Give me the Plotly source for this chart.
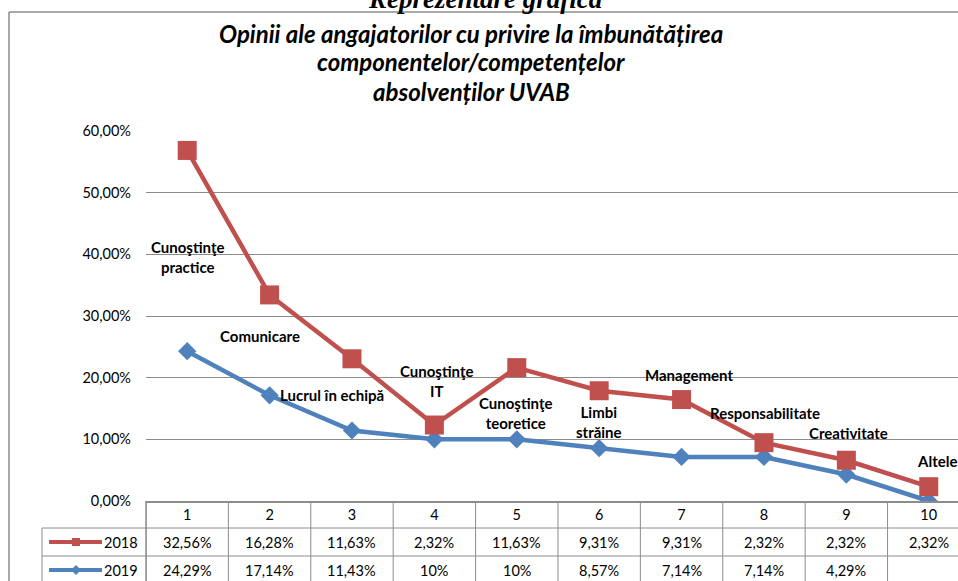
import plotly.graph_objects as go

# data (stacked line chart, values in %)
categories = ["1", "2", "3", "4", "5", "6", "7", "8", "9", "10"]
series_2018 = [32.56, 16.28, 11.63, 2.32, 11.63, 9.31, 9.31, 2.32, 2.32, 2.32]
series_2019 = [24.29, 17.14, 11.43, 10, 10, 8.57, 7.14, 7.14, 4.29, None]
point_labels = ["Cunoştinţe<br>practice", "Comunicare", "Lucrul în echipă", "Cunoştinţe<br>IT",
                "Cunoştinţe<br>teoretice", "Limbi<br>străine", "Management", "Responsabilitate",
                "Creativitate", "Altele"]
title_lines = ["Opinii ale angajatorilor cu privire la îmbunătățirea",
               "componentelor/competențelor",
               "absolvenților UVAB"]
heading = "Reprezentare grafică"

# where the data labels sit (x in category units, y in %)
label_pos = [(1.0, 39.5), (1.88, 26.7), (2.76, 17.2), (4.03, 19.4), (4.99, 14.3),
             (6.0, 12.8), (7.09, 20.4), (8.01, 14.3), (9.03, 11.0), (10.1, 6.5)]

RED = "#C0504D"
BLUE = "#4F81BD"
GRID = "#8C8C8C"
FONT = "Lato"

x_vals = list(range(1, len(categories) + 1))


def pct(v):
    if v is None:
        return ""
    if float(v).is_integer():
        return f"{int(v)}%"
    return f"{v:.2f}".replace(".", ",") + "%"


fig = go.Figure()
fig.add_trace(go.Scatter(
    x=x_vals, y=[(v or 0) / 100 for v in series_2019], name="2019",
    stackgroup="one", fill="none", mode="lines+markers",
    line=dict(color=BLUE, width=4.5),
    marker=dict(symbol="diamond", size=14, color=BLUE),
))
fig.add_trace(go.Scatter(
    x=x_vals, y=[v / 100 for v in series_2018], name="2018",
    stackgroup="one", fill="none", mode="lines+markers",
    line=dict(color=RED, width=4.5),
    marker=dict(symbol="square", size=19, color=RED),
))

# pixel helpers (screen pixels): plot area is 146..958 x 131..501
def px(xp):
    return (xp - 146) / 812


def py(yp):
    return (501 - yp) / 370


annotations = []
for txt, (lx, ly) in zip(point_labels, label_pos):
    annotations.append(dict(x=lx, y=ly / 100, xref="x", yref="y", text=f"<b>{txt}</b>", showarrow=False,
                            font=dict(family=FONT, size=15, color="#000"), align="center"))

for i, t in enumerate(title_lines):
    annotations.append(dict(x=px(471), y=py(33 + 29 * i), xref="paper", yref="paper", text=f"<b><i>{t}</i></b>",
                            showarrow=False, xanchor="center", yanchor="middle",
                            font=dict(family=FONT, size=24, color="#000")))
annotations.append(dict(x=px(485), y=py(-1), xref="paper", yref="paper", text=f"<b><i>{heading}</i></b>",
                        showarrow=False, xanchor="center", yanchor="middle",
                        font=dict(family="Liberation Serif", size=27, color="#000")))

# table rows
for name, vals, row_y in [("2018", series_2018, 542), ("2019", series_2019, 570)]:
    for x, v in zip(x_vals, vals):
        annotations.append(dict(x=x, y=py(row_y), xref="x", yref="paper", text=pct(v), showarrow=False,
                                xanchor="center", yanchor="middle",
                                font=dict(family=FONT, size=14.5, color="#000")))
    annotations.append(dict(x=px(140), y=py(row_y), xref="paper", yref="paper", text=name, showarrow=False,
                            xanchor="right", yanchor="middle", font=dict(family=FONT, size=14.5, color="#000")))

shapes = []
# outer frame of the chart (only top and left edges are in view)
shapes.append(dict(type="line", xref="paper", yref="paper", x0=px(9), x1=px(958), y0=py(12), y1=py(12),
                   line=dict(color=GRID, width=1.5), layer="below"))
shapes.append(dict(type="line", xref="paper", yref="paper", x0=px(9), x1=px(9), y0=py(12), y1=py(600),
                   line=dict(color=GRID, width=1.5), layer="below"))
# table grid
for yl in [528, 556, 584]:
    shapes.append(dict(type="line", xref="paper", yref="paper", x0=px(42), x1=1, y0=py(yl), y1=py(yl),
                       line=dict(color=GRID, width=1)))
shapes.append(dict(type="line", xref="paper", yref="paper", x0=px(42), x1=px(42), y0=py(528), y1=py(600),
                   line=dict(color=GRID, width=1)))
for x in x_vals:
    shapes.append(dict(type="line", xref="x", yref="paper", x0=x - 0.5, x1=x - 0.5, y0=0, y1=py(600),
                       line=dict(color=GRID, width=1)))
shapes.append(dict(type="line", xref="paper", yref="paper", x0=0, x1=0, y0=0, y1=py(600),
                   line=dict(color=GRID, width=1.5)))
# legend keys in the table
for color, row_y in [(RED, 542), (BLUE, 570)]:
    shapes.append(dict(type="line", xref="paper", yref="paper", x0=px(49), x1=px(102), y0=py(row_y), y1=py(row_y),
                       line=dict(color=color, width=4)))
shapes.append(dict(type="rect", xref="paper", yref="paper", x0=px(72), x1=px(80), y0=py(546), y1=py(538),
                   fillcolor=RED, line=dict(width=0)))
shapes.append(dict(type="path", xref="paper", yref="paper",
                   path=f"M {px(71)} {py(570)} L {px(76)} {py(565)} L {px(81)} {py(570)} L {px(76)} {py(575)} Z",
                   fillcolor=BLUE, line=dict(width=0)))

fig.update_layout(
    width=958, height=581,
    margin=dict(l=146, r=0, t=131, b=80),
    paper_bgcolor="white", plot_bgcolor="white",
    separators=",.",
    showlegend=False,
    font=dict(family=FONT, size=13, color="#000"),
    annotations=annotations,
    shapes=shapes,
    xaxis=dict(range=[0.5, 10.355], tickvals=x_vals, ticktext=categories, showgrid=False,
               showline=True, linecolor=GRID, linewidth=1.5, ticks="", zeroline=False,
               tickfont=dict(family=FONT, size=14.5, color="#000")),
    yaxis=dict(range=[0, 0.6], dtick=0.1, tickformat=".2%", showgrid=True, gridcolor=GRID, gridwidth=1,
               showline=False, zeroline=False, ticks="", ticklabelstandoff=14,
               tickfont=dict(family=FONT, size=14.5, color="#000")),
)

# drop the default page margin so the figure fills the window exactly
fig.write_html("out.html", config={"displayModeBar": False},
               post_script="document.body.style.margin='0';document.body.style.overflow='hidden';")
